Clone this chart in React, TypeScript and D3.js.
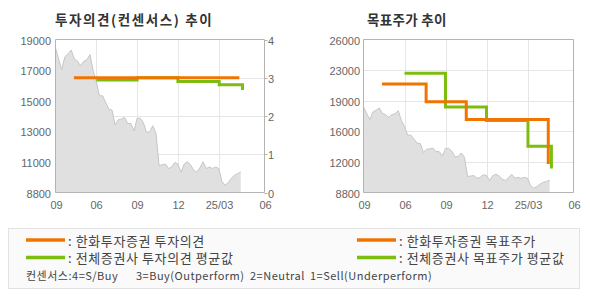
import React from "react";
import * as d3 from "d3";

// ---------- data ----------
const priceStart = "2024-03-04"; // weekly closes from this date
const weeklyPrice = [
  18440, 17700, 17000, 17850, 18050, 18300, 17700, 17550, 17250, 17550,
  17650, 18000, 16900, 16200, 15250, 15250, 14800, 14350, 14300, 13300,
  13650, 13700, 13800, 13400, 13400, 12900, 13750, 13750, 13450, 12800,
  12850, 13250, 12750, 10600, 10650, 10700, 10400, 10500, 10800, 10700,
  10150, 10700, 10850, 10650, 10300, 10150, 10450, 10850, 10400, 10500,
  10400, 10500, 10400, 9550, 9280, 9450, 9750, 9950, 10050, 10170,
];

const hanwhaOpinionDates = ["2024-04-14", "2025-04-18"];
const hanwhaOpinion = [3, 3];
const avgOpinionDates = ["2024-06-03", "2024-09-02", "2024-12-02", "2025-03-04", "2025-04-25"];
const avgOpinion = [2.94, 3.0, 2.9, 2.82, 2.68];

const hanwhaTargetDates = ["2024-04-14", "2024-07-21", "2024-10-18", "2025-04-18"];
const hanwhaTarget = [21000, 19000, 17000, 12000];
const avgTargetDates = ["2024-06-03", "2024-09-02", "2024-12-02", "2025-03-04", "2025-04-25"];
const avgTarget = [22200, 18400, 16900, 14000, 11500];

const xDomain = ["2024-03-04", "2025-06-13"];
const xTickDates = ["2024-03-04", "2024-06-03", "2024-09-02", "2024-12-02", "2025-03-04", "2025-06-13"];
const xTickLabels = ["09", "06", "09", "12", "25/03", "06"];

const leftPriceDomain = [8800, 19000];
const leftPriceLabels = ["8800", "11000", "13000", "15000", "17000", "19000"];
const opinionDomain = [0, 4];
const opinionTicks = [0, 1, 2, 3, 4];

const rightPriceDomain = [8800, 26000];
const rightPriceLabels = ["8800", "12000", "16000", "19000", "23000", "26000"];

const titles = ["투자의견(컨센서스) 추이", "목표주가 추이"];
const legendItems = [
  { label: ": 한화투자증권 투자의견", color: "#f27400" },
  { label: ": 전체증권사 투자의견 평균값", color: "#7cbd10" },
  { label: ": 한화투자증권 목표주가", color: "#f27400" },
  { label: ": 전체증권사 목표주가 평균값", color: "#7cbd10" },
];
const consensusParts = ["컨센서스:4=S/Buy", "3=Buy(Outperform)", "2=Neutral", "1=Sell(Underperform)"];

// ---------- helpers ----------
const parse = d3.timeParse("%Y-%m-%d");
const ORANGE = "#f27400";
const GREEN = "#7cbd10";
const AXIS = "#b4b4b4";
const GRID = "#e6e6e6";
const TXT = "#666";
const NUMFONT = "'Liberation Sans', Arial, sans-serif";
const KFONT = "'Noto Sans CJK KR', 'Noto Sans', sans-serif";

const priceSeries = weeklyPrice.map((v, i) => ({
  date: d3.timeDay.offset(parse(priceStart)!, i * 7),
  v,
}));
const toSeries = (dates: string[], vals: number[]) =>
  dates.map((d, i) => ({ date: parse(d)!, v: vals[i] }));

type Panel = {
  x0: number;
  x1: number;
  y0: number;
  y1: number;
};

function XAxis({ x, p }: { x: d3.ScaleTime<number, number>; p: Panel }) {
  return (
    <g>
      {xTickDates.map((d, i) => {
        const px = Math.round(x(parse(d)!)) + 0.5;
        return (
          <g key={i}>
            {i > 0 && i < xTickDates.length - 1 && (
              <line x1={px} x2={px} y1={p.y0} y2={p.y1} stroke={GRID} />
            )}
            <text
              x={px}
              y={p.y1 + 16}
              textAnchor="middle"
              fontSize={11}
              fontFamily={NUMFONT}
              fill={TXT}
            >
              {xTickLabels[i]}
            </text>
          </g>
        );
      })}
    </g>
  );
}

function PriceArea({
  x,
  y,
  p,
}: {
  x: d3.ScaleTime<number, number>;
  y: d3.ScaleLinear<number, number>;
  p: Panel;
}) {
  const area = d3
    .area<{ date: Date; v: number }>()
    .x((d) => x(d.date))
    .y0(p.y1)
    .y1((d) => y(d.v));
  const line = d3
    .line<{ date: Date; v: number }>()
    .x((d) => x(d.date))
    .y((d) => y(d.v));
  return (
    <g>
      <path d={area(priceSeries) || ""} fill="#e0e0e0" />
      <path d={line(priceSeries) || ""} fill="none" stroke="#c6c6c6" strokeWidth={1} />
    </g>
  );
}

function StepLine({
  data,
  x,
  y,
  color,
}: {
  data: { date: Date; v: number }[];
  x: d3.ScaleTime<number, number>;
  y: d3.ScaleLinear<number, number>;
  color: string;
}) {
  const line = d3
    .line<{ date: Date; v: number }>()
    .x((d) => x(d.date))
    .y((d) => y(d.v))
    .curve(d3.curveStepAfter);
  return <path d={line(data) || ""} fill="none" stroke={color} strokeWidth={3} />;
}

function LeftChart() {
  const p: Panel = { x0: 55.5, x1: 264.5, y0: 39.5, y1: 192.5 };
  const x = d3.scaleTime().domain(xDomain.map((d) => parse(d)!)).range([p.x0, p.x1]);
  const yP = d3.scaleLinear().domain(leftPriceDomain).range([p.y1, p.y0]);
  const yO = d3.scaleLinear().domain(opinionDomain).range([p.y1, p.y0]);
  const priceTickVals = leftPriceLabels.map(
    (_, i) => leftPriceDomain[0] + ((leftPriceDomain[1] - leftPriceDomain[0]) * i) / (leftPriceLabels.length - 1)
  );
  return (
    <g>
      <text x={55} y={25} fontSize={13.5} fontWeight="bold" fontFamily={KFONT} fill="#333" letterSpacing={1.6}>
        {titles[0]}
      </text>
      {opinionTicks.slice(1, -1).map((t) => (
        <line key={t} x1={p.x0} x2={p.x1} y1={Math.round(yO(t)) + 0.5} y2={Math.round(yO(t)) + 0.5} stroke={GRID} />
      ))}
      <XAxis x={x} p={p} />
      <PriceArea x={x} y={yP} p={p} />
      <StepLine data={toSeries(avgOpinionDates, avgOpinion)} x={x} y={yO} color={GREEN} />
      <StepLine data={toSeries(hanwhaOpinionDates, hanwhaOpinion)} x={x} y={yO} color={ORANGE} />
      {/* frame */}
      <line x1={p.x0} x2={p.x1} y1={p.y0} y2={p.y0} stroke={AXIS} />
      <line x1={p.x0} x2={p.x1} y1={p.y1} y2={p.y1} stroke={AXIS} />
      <line x1={p.x0} x2={p.x0} y1={p.y0} y2={p.y1} stroke={AXIS} />
      <line x1={p.x1} x2={p.x1} y1={p.y0} y2={p.y1} stroke={AXIS} />
      {priceTickVals.map((v, i) => (
        <text
          key={i}
          x={51}
          y={yP(v) + 5}
          textAnchor="end"
          fontSize={11}
          fontFamily={NUMFONT}
          fill={TXT}
        >
          {leftPriceLabels[i]}
        </text>
      ))}
      {opinionTicks.map((t) => (
        <g key={t}>
          <line x1={p.x1} x2={p.x1 + 3} y1={Math.round(yO(t)) + 0.5} y2={Math.round(yO(t)) + 0.5} stroke={AXIS} />
          <text x={268} y={yO(t) + 5} fontSize={11} fontFamily={NUMFONT} fill={TXT}>
            {t}
          </text>
        </g>
      ))}
    </g>
  );
}

function RightChart() {
  const p: Panel = { x0: 363.5, x1: 573.5, y0: 39.5, y1: 192.5 };
  const x = d3.scaleTime().domain(xDomain.map((d) => parse(d)!)).range([p.x0, p.x1]);
  const y = d3.scaleLinear().domain(rightPriceDomain).range([p.y1, p.y0]);
  const tickVals = rightPriceLabels.map(
    (_, i) => rightPriceDomain[0] + ((rightPriceDomain[1] - rightPriceDomain[0]) * i) / (rightPriceLabels.length - 1)
  );
  return (
    <g>
      <text x={367} y={25} fontSize={13.5} fontWeight="bold" fontFamily={KFONT} fill="#333" letterSpacing={0.3}>
        {titles[1]}
      </text>
      {tickVals.slice(1, -1).map((v, i) => (
        <line key={i} x1={p.x0} x2={p.x1} y1={Math.round(y(v)) + 0.5} y2={Math.round(y(v)) + 0.5} stroke={GRID} />
      ))}
      <XAxis x={x} p={p} />
      <PriceArea x={x} y={y} p={p} />
      <StepLine data={toSeries(avgTargetDates, avgTarget)} x={x} y={y} color={GREEN} />
      <StepLine data={toSeries(hanwhaTargetDates, hanwhaTarget)} x={x} y={y} color={ORANGE} />
      <line x1={p.x0} x2={p.x1} y1={p.y0} y2={p.y0} stroke={AXIS} />
      <line x1={p.x0} x2={p.x1} y1={p.y1} y2={p.y1} stroke={AXIS} />
      <line x1={p.x0} x2={p.x0} y1={p.y0} y2={p.y1} stroke={AXIS} />
      <line x1={p.x1} x2={p.x1} y1={p.y0} y2={p.y1} stroke={AXIS} />
      {tickVals.map((v, i) => (
        <text key={i} x={360} y={y(v) + 5} textAnchor="end" fontSize={11} fontFamily={NUMFONT} fill={TXT}>
          {rightPriceLabels[i]}
        </text>
      ))}
    </g>
  );
}

function Legend() {
  const cols = [26, 357];
  const rows = [240, 257.5];
  return (
    <g>
      <rect x={8.5} y={228.5} width={571} height={60} fill="#fafafa" stroke="#e2e2e2" />
      {legendItems.map((it, i) => {
        const cx = cols[Math.floor(i / 2)];
        const ry = rows[i % 2];
        return (
          <g key={i}>
            <line x1={cx} x2={cx + 39} y1={ry} y2={ry} stroke={it.color} strokeWidth={3.5} />
            <text x={cx + 42} y={ry + 5.5} fontSize={13} fontFamily={KFONT} fill="#444" letterSpacing={0.6}>
              {it.label}
            </text>
          </g>
        );
      })}
      {consensusParts.map((t, i) => (
        <text key={i} x={[26, 136, 250, 310][i]} y={280} fontSize={11} fontFamily={KFONT} fill="#444" letterSpacing={0.5}>
          {t}
        </text>
      ))}
    </g>
  );
}

export default function App() {
  return (
    <div style={{ position: "absolute", left: 0, top: 0, width: 590, height: 300, background: "#fff" }}>
      <svg width={590} height={300} style={{ display: "block" }}>
        <rect width={590} height={300} fill="#fff" />
        <LeftChart />
        <RightChart />
        <Legend />
      </svg>
    </div>
  );
}
